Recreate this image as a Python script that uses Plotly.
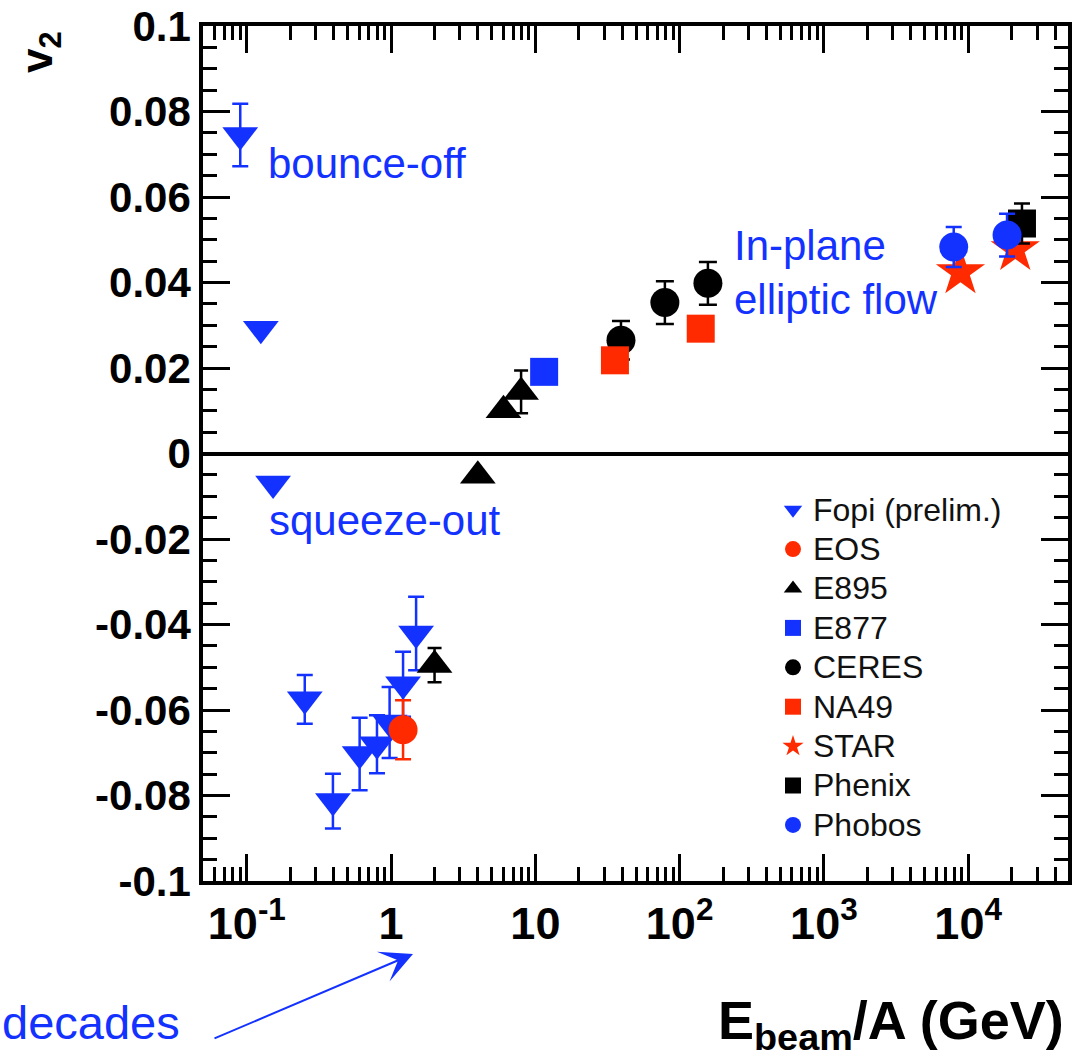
import plotly.graph_objects as go

# ---------------- data ----------------
fopi_x = [0.09, 0.125, 0.152, 0.252, 0.395, 0.605, 0.798, 0.976, 1.21, 1.49]
fopi_y = [0.0745, 0.0292, -0.0070, -0.0575, -0.0813, -0.0703, -0.0680, -0.0629, -0.0540, -0.0421]
fopi_err = [0.0073, 0.0, 0.0, 0.0057, 0.0064, 0.0085, 0.0068, 0.0083, 0.0076, 0.0086]

eos_x = [1.21]
eos_y = [-0.0646]
eos_err = [0.0069]

e895_x = [2.0, 3.99, 6.01, 7.96]
e895_y = [-0.0495, -0.0052, 0.0101, 0.0144]
e895_err = [0.0040, 0.0, 0.0, 0.0050]

e877_x = [11.5]
e877_y = [0.0191]

ceres_x = [39.2, 79.0, 157.0]
ceres_y = [0.0265, 0.0353, 0.0398]
ceres_err = [0.0045, 0.0050, 0.0050]

na49_x = [35.6, 140.0]
na49_y = [0.0218, 0.0292]

star_x = [8840.0, 21200.0]
star_y = [0.0424, 0.0478]

phenix_x = [23600.0]
phenix_y = [0.0538]
phenix_err = [0.0047]

phobos_x = [7940.0, 18600.0]
phobos_y = [0.0483, 0.0511]
phobos_err = [0.0047, 0.0050]

x_tickvals = [0.1, 1, 10, 100, 1000, 10000]
x_ticktext = ["10<sup>-1</sup>", "1", "10", "10<sup>2</sup>", "10<sup>3</sup>", "10<sup>4</sup>"]
y_tickvals = [-0.1, -0.08, -0.06, -0.04, -0.02, 0, 0.02, 0.04, 0.06, 0.08, 0.1]
y_ticktext = ["-0.1", "-0.08", "-0.06", "-0.04", "-0.02", "0", "0.02", "0.04", "0.06", "0.08", "0.1"]

# ---------------- styling ----------------
W, H = 1078, 1058
PL, PR, PT, PB = 203, 1068, 26, 881   # plot area in pixels
BLUE = "#1432ff"
RED = "#ff2a00"
BLACK = "#000000"
FONT = "Liberation Sans, Arial, Helvetica, sans-serif"


def px_x(p):
    return (p - PL) / (PR - PL)


def px_y(p):
    return (PB - p) / (PB - PT)


def lab(name):
    return '<span style="font-size:32px">' + name + '</span>'


fig = go.Figure()


def add(name, x, y, symbol, color, size, err=None, errw=8):
    kw = {}
    if err is not None:
        kw["error_y"] = dict(type="data", array=err, visible=True, color=color,
                             thickness=2.5, width=errw)
    fig.add_trace(go.Scatter(
        x=x, y=y, mode="markers", name=lab(name),
        marker=dict(symbol=symbol, color=color, size=size, line=dict(width=0)),
        **kw))


add("Fopi (prelim.)", fopi_x, fopi_y, "triangle-down", BLUE, 31, fopi_err, 8)
add("EOS", eos_x, eos_y, "circle", RED, 29, eos_err, 8)
add("E895", e895_x, e895_y, "triangle-up", BLACK, 31, e895_err, 7)
add("E877", e877_x, e877_y, "square", BLUE, 28)
add("CERES", ceres_x, ceres_y, "circle", BLACK, 29, ceres_err, 9)
add("NA49", na49_x, na49_y, "square", RED, 28)
add("STAR", star_x, star_y, "star", RED, 37)
add("Phenix", phenix_x, phenix_y, "square", BLACK, 28, phenix_err, 8)
add("Phobos", phobos_x, phobos_y, "circle", BLUE, 29, phobos_err, 8)

# minor tick positions (2..9 per decade)
x_minor = []
for d in range(-2, 5):
    for m in range(2, 10):
        v = m * 10.0 ** d
        if 0.0497 <= v <= 49000:
            x_minor.append(v)

fig.update_xaxes(
    type="log", range=[-1.304, 4.692],
    tickmode="array", tickvals=x_tickvals, ticktext=x_ticktext,
    ticks="inside", ticklen=27, tickwidth=3, tickcolor=BLACK,
    minor=dict(tickmode="array", tickvals=x_minor, ticks="inside", ticklen=14,
               tickwidth=3, tickcolor=BLACK, showgrid=False),
    showline=True, linewidth=3.5, linecolor=BLACK, mirror="allticks",
    showgrid=False, zeroline=False,
    tickfont=dict(family=FONT, size=45, color=BLACK, weight="bold"),
    ticklabelstandoff=0,
)
fig.update_yaxes(
    range=[-0.1, 0.1],
    tickmode="array", tickvals=y_tickvals, ticktext=y_ticktext,
    ticks="inside", ticklen=27, tickwidth=3, tickcolor=BLACK,
    minor=dict(dtick=0.005, ticks="inside", ticklen=14, tickwidth=3,
               tickcolor=BLACK, showgrid=False),
    showline=True, linewidth=3.5, linecolor=BLACK, mirror="allticks",
    showgrid=False, zeroline=True, zerolinewidth=3.5, zerolinecolor=BLACK,
    tickfont=dict(family=FONT, size=42, color=BLACK, weight="bold"),
    ticklabelstandoff=0,
)

ann = [
    dict(text="bounce-off", x=px_x(266), y=px_y(163.5), xanchor="left", yanchor="middle",
         font=dict(family=FONT, size=42, color=BLUE)),
    dict(text="squeeze-out", x=px_x(267), y=px_y(520), xanchor="left", yanchor="middle",
         font=dict(family=FONT, size=42, color=BLUE)),
    dict(text="In-plane", x=px_x(732), y=px_y(245), xanchor="left", yanchor="middle",
         font=dict(family=FONT, size=42, color=BLUE)),
    dict(text="elliptic flow", x=px_x(732), y=px_y(299), xanchor="left", yanchor="middle",
         font=dict(family=FONT, size=42, color=BLUE)),
    dict(text="decades", x=px_x(182), y=px_y(1023), xanchor="right", yanchor="middle",
         font=dict(family=FONT, size=47, color=BLUE)),
    dict(text="", x=px_x(413), y=px_y(954), ax=213 - 413, ay=1039 - 954,
         showarrow=True, arrowhead=3, arrowsize=2.7, arrowwidth=2, arrowcolor=BLUE,
         standoff=0),
    dict(text="<b>E<sub>beam</sub>/A (GeV)</b>", x=px_x(1066), y=px_y(1024),
         xanchor="right", yanchor="middle",
         font=dict(family=FONT, size=54, color=BLACK)),
    dict(text="<b>v<sub>2</sub></b>", x=px_x(40), y=px_y(52), textangle=-90,
         xanchor="center", yanchor="middle",
         font=dict(family=FONT, size=44, color=BLACK)),
]
for a in ann:
    a.setdefault("xref", "paper")
    a.setdefault("yref", "paper")
    a.setdefault("showarrow", False)
    fig.add_annotation(**a)

fig.update_layout(
    width=W, height=H,
    margin=dict(l=PL, r=W - PR, t=PT, b=H - PB, autoexpand=False),
    paper_bgcolor="white", plot_bgcolor="white",
    showlegend=True,
    legend=dict(x=px_x(773), y=px_y(485), xanchor="left", yanchor="top",
                bgcolor="rgba(0,0,0,0)", borderwidth=0,
                font=dict(family=FONT, size=28, color="#111111"),
                tracegroupgap=0, itemsizing="trace"),
)

fig.write_html("out.html")
